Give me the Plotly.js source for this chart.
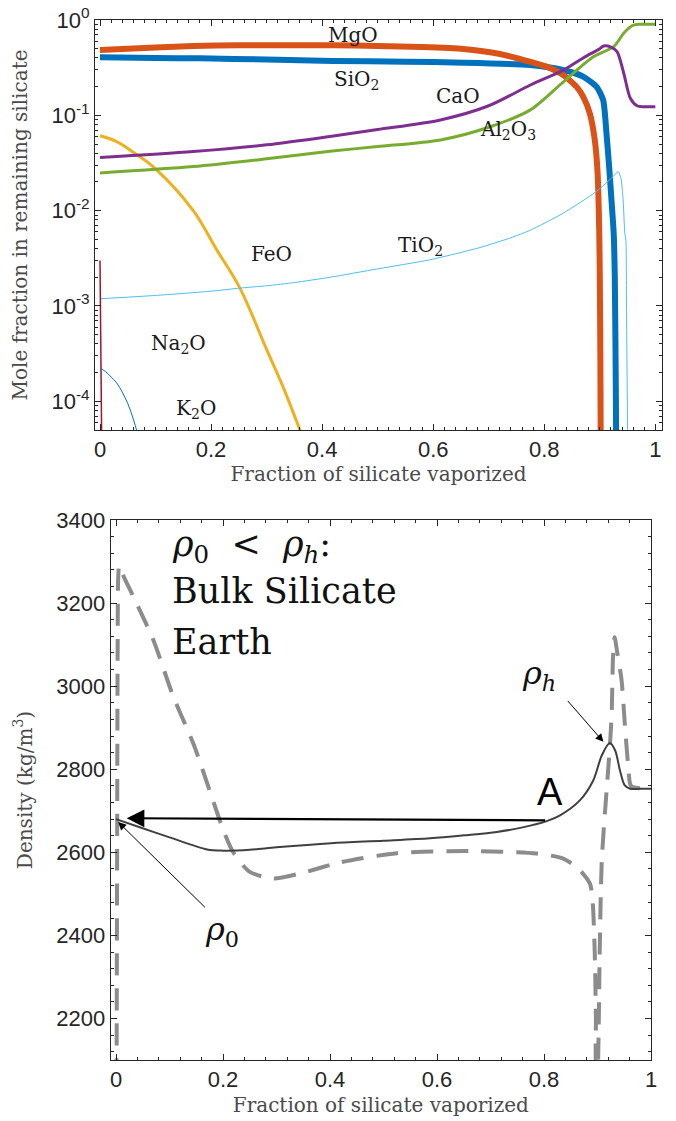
<!DOCTYPE html>
<html>
<head>
<meta charset="utf-8">
<script src="https://cdn.plot.ly/plotly-3.0.1.min.js"></script>
<style>html,body{margin:0;padding:0;background:#fff;}#chart{width:676px;height:1121px;}</style>
</head>
<body>
<div id="chart"></div>
<script>
// ---------- Top panel data: mole fraction in remaining silicate ----------
const x_SiO2 = [0,0.1,0.18,0.3,0.42,0.55,0.654,0.774,0.834,0.87,0.894,0.906,0.912,0.917,0.921,0.925,0.927,0.929,0.930];
const y_SiO2 = [0.406,0.40,0.396,0.385,0.372,0.365,0.357,0.337,0.299,0.255,0.2,0.145,0.065,0.028,0.013,0.0058,0.002,0.0001,0.00001];

const x_MgO = [0,0.1,0.168,0.25,0.35,0.42,0.5,0.58,0.654,0.72,0.774,0.804,0.834,0.858,0.87,0.882,0.891,0.896,0.899,0.9,0.901,0.902];
const y_MgO = [0.485,0.515,0.535,0.543,0.545,0.542,0.535,0.52,0.496,0.44,0.366,0.324,0.265,0.2,0.157,0.105,0.055,0.025,0.0059,0.002,0.0003,0.00001];

const x_FeO = [0,0.03,0.06,0.1,0.168,0.21,0.252,0.3,0.33,0.36,0.37];
const y_FeO = [0.061,0.053,0.041,0.0275,0.01,0.0039,0.00154,0.00035,0.00014,0.00005,0.000035];

const x_CaO = [0,0.168,0.3,0.414,0.5,0.613,0.7,0.775,0.835,0.87,0.9,0.907,0.92,0.931,0.943,0.955,0.967,0.98,1.0];
const y_CaO = [0.036,0.0417,0.049,0.06,0.071,0.0895,0.126,0.208,0.299,0.4,0.5,0.534,0.52,0.465,0.278,0.151,0.126,0.123,0.123];

const x_Al2O3 = [0,0.168,0.3,0.414,0.5,0.613,0.7,0.775,0.835,0.889,0.925,0.943,0.958,0.97,1.0];
const y_Al2O3 = [0.0249,0.029,0.035,0.042,0.047,0.0552,0.075,0.114,0.226,0.413,0.525,0.725,0.87,0.9,0.9];

const x_TiO2 = [0,0.1,0.2,0.252,0.3,0.35,0.414,0.5,0.594,0.684,0.74,0.774,0.834,0.894,0.924,0.933,0.938,0.942,0.945,0.947,0.948,0.95,0.951];
const y_TiO2 = [0.00119,0.00129,0.00143,0.00154,0.00163,0.00176,0.002,0.00245,0.00305,0.0041,0.0052,0.0062,0.0094,0.0159,0.0228,0.0257,0.022,0.013,0.0058,0.0049,0.001,0.000055,0.00001];

const x_Na2O = [0,0.0008,0.0016,0.0024,0.003,0.0035];
const y_Na2O = [0.003,0.001,0.0003,0.0001,0.00005,0.00002];

const x_K2O = [0,0.01,0.02,0.03,0.04,0.05,0.06,0.068];
const y_K2O = [0.000224,0.000205,0.00018,0.000156,0.000125,0.000095,0.000065,0.000045];

const topTickVals = [1e-4,1e-3,1e-2,1e-1,1];
const topTickText = ['10<sup>-4</sup>','10<sup>-3</sup>','10<sup>-2</sup>','10<sup>-1</sup>','10<sup>0</sup>'];

// ---------- Bottom panel data: density ----------
const x_rho = [0,0.047,0.1,0.17,0.2,0.25,0.3,0.402,0.5,0.587,0.65,0.712,0.76,0.805,0.83,0.867,0.892,0.908,0.923,0.933,0.942,0.951,0.961,0.98,1.0];
const y_rho = [2680,2659,2636,2607,2604,2606,2612,2622,2628,2634,2641,2649,2660,2675,2689,2725,2773,2833,2863,2845,2797,2761,2753,2753,2753];

const x_rhoDash = [0.001,0.002,0.003,0.004,0.006,0.015,0.033,0.07,0.107,0.145,0.182,0.2,0.219,0.25,0.294,0.344,0.42,0.525,0.66,0.786,0.836,0.864,0.886,0.891,0.895,0.897,0.898,0.900,0.9015,0.904,0.908,0.917,0.923,0.9265,0.929,0.932,0.937,0.945,0.951,0.9576,0.9626,0.979,1.0];
const y_rhoDash = [2050,2600,3100,3260,3290,3262,3214,3110,2975,2860,2722,2655,2600,2553,2537,2549,2576,2598,2603,2597,2585,2561,2524,2480,2350,2200,2080,2080,2123,2350,2580,2749,2853,2934,3070,3118,3080,3014,2910,2805,2760,2754,2754];

// ---------- styling ----------
const AX = '#262626';
const TITLE_COL = '#4a4a4a';
const SERIF = 'DejaVu Serif';
const SANS = 'Liberation Sans';

function line(x, y, color, width, xa, ya, dash, smooth) {
  const ln = {color: color, width: width, dash: dash || 'solid'};
  if (smooth) { ln.shape = 'spline'; ln.smoothing = smooth; }
  return {x: x, y: y, type: 'scatter', mode: 'lines', xaxis: xa, yaxis: ya, line: ln, hoverinfo: 'skip'};
}

const traces = [
  line(x_SiO2, y_SiO2, '#0072BD', 6, 'x', 'y', null, 0.6),
  line(x_MgO, y_MgO, '#D95319', 6, 'x', 'y', null, 0.6),
  line(x_FeO, y_FeO, '#EDB120', 3, 'x', 'y', null, 1),
  line(x_Al2O3, y_Al2O3, '#77AC30', 3, 'x', 'y', null, 0.8),
  line(x_CaO, y_CaO, '#7E2F8E', 3, 'x', 'y', null, 0.8),
  line(x_TiO2, y_TiO2, '#4DBEEE', 1, 'x', 'y', null, 0.6),
  line(x_Na2O, y_Na2O, '#A2142F', 1.5, 'x', 'y'),
  line(x_K2O, y_K2O, '#0072BD', 1, 'x', 'y', null, 1),
  line(x_rhoDash, y_rhoDash, '#8C8C8C', 4, 'x2', 'y2', '22px,13px', 0.7),
  line(x_rho, y_rho, '#404040', 2, 'x2', 'y2', null, 0.9)
];

// minor log ticks 2..9 per decade
const minorLog = [];
for (let d = -5; d <= -1; d++) for (let k = 2; k <= 9; k++) minorLog.push(k * Math.pow(10, d));

function axisCommon() {
  return {
    showline: true, linecolor: AX, linewidth: 1, mirror: 'allticks',
    ticks: 'inside', ticklen: 6, tickwidth: 1, tickcolor: AX,
    showgrid: false, zeroline: false,
    tickfont: {family: SANS, size: 22, color: AX}
  };
}
function tfont() { return {family: SERIF, size: 20, color: TITLE_COL}; }

const L = 95, R = 14, T = 20, B = 61, W = 676, H = 1121;
const pw = W - L - R, ph = H - T - B;

const layout = {
  width: W, height: H,
  margin: {l: L, r: R, t: T, b: B},
  paper_bgcolor: '#fff', plot_bgcolor: '#fff',
  showlegend: false,
  xaxis: Object.assign(axisCommon(), {
    domain: [0, 1], anchor: 'y', range: [-0.009, 1.012],
    tick0: 0, dtick: 0.2,
    minor: {dtick: 0.02, ticks: 'inside', ticklen: 3, tickcolor: AX},
    title: {text: 'Fraction of silicate vaporized', font: tfont(), standoff: 4}
  }),
  yaxis: Object.assign(axisCommon(), {
    domain: [1 - (430 - T) / ph, 1], anchor: 'x', type: 'log',
    range: [Math.log10(5e-5), 0],
    tickmode: 'array', tickvals: topTickVals, ticktext: topTickText,
    minor: {tickmode: 'array', tickvals: minorLog, ticks: 'inside', ticklen: 3, tickcolor: AX},
    title: {text: 'Mole fraction in remaining silicate', font: tfont(), standoff: 18}
  }),
  xaxis2: Object.assign(axisCommon(), {
    domain: [(110.7 - L) / pw, (651 - L) / pw], anchor: 'y2', range: [-0.01, 1],
    tick0: 0, dtick: 0.2,
    minor: {dtick: 0.04, ticks: 'inside', ticklen: 3, tickcolor: AX},
    title: {text: 'Fraction of silicate vaporized', font: tfont(), standoff: 6}
  }),
  yaxis2: Object.assign(axisCommon(), {
    domain: [0, (H - B - 520) / ph], anchor: 'x2', range: [2100, 3400],
    tick0: 2200, dtick: 200,
    minor: {dtick: 40, ticks: 'inside', ticklen: 3, tickcolor: AX},
    title: {text: 'Density (kg/m<sup>3</sup>)', font: tfont(), standoff: 18}
  }),
  annotations: []
};

// ---------- top panel labels ----------
const lab = (text, x, y) => ({text: text, x: x, y: y, xref: 'x', yref: 'y', showarrow: false,
  font: {family: SERIF, size: 20, color: '#1a1a1a'}, xanchor: 'center', yanchor: 'middle'});
layout.annotations.push(
  lab('MgO', 0.456, -0.157),
  lab('SiO<sub>2</sub>', 0.462, -0.63),
  lab('CaO', 0.644, -0.797),
  lab('Al<sub>2</sub>O<sub>3</sub>', 0.735, -1.15),
  lab('TiO<sub>2</sub>', 0.577, -2.37),
  lab('FeO', 0.308, -2.453),
  lab('Na<sub>2</sub>O', 0.142, -3.40),
  lab('K<sub>2</sub>O', 0.172, -4.08)
);

// ---------- bottom panel annotations ----------
function bigFont() { return {family: SERIF, size: 35, color: '#111'}; }
const txt = (text, x, y, xanchor, font) => ({text: text, x: x, y: y, xref: 'x2', yref: 'y2', showarrow: false,
  xanchor: xanchor, yanchor: 'middle', font: font});
layout.annotations.push(
  txt('<i>ρ</i><sub>0</sub>&nbsp; &lt; &nbsp;<i>ρ<sub>h</sub></i>:', 0.1, 3336, 'left', bigFont()),
  txt('Bulk Silicate', 0.1, 3230, 'left', bigFont()),
  txt('Earth', 0.1, 3106, 'left', bigFont()),
  txt('<i>ρ<sub>h</sub></i>', 0.79, 3026, 'center', {family: SERIF, size: 32, color: '#111'}),
  txt('<i>ρ</i><sub>0</sub>', 0.198, 2410, 'center', {family: SERIF, size: 32, color: '#111'}),
  txt('A', 0.811, 2746, 'center', {family: SANS, size: 38, color: '#000'}),
  // arrows
  {text: '', x: 0.02, y: 2682, ax: 0.805, ay: 2677, xref: 'x2', yref: 'y2', axref: 'x2', ayref: 'y2',
   showarrow: true, arrowhead: 2, arrowsize: 1.6, arrowwidth: 2.2, arrowcolor: '#000', standoff: 0},
  {text: '', x: 0.911, y: 2866, ax: 0.842, ay: 2968, xref: 'x2', yref: 'y2', axref: 'x2', ayref: 'y2',
   showarrow: true, arrowhead: 2, arrowsize: 1.6, arrowwidth: 1, arrowcolor: '#000', standoff: 0},
  {text: '', x: 0.004, y: 2673, ax: 0.169, ay: 2464, xref: 'x2', yref: 'y2', axref: 'x2', ayref: 'y2',
   showarrow: true, arrowhead: 2, arrowsize: 1.6, arrowwidth: 1, arrowcolor: '#000', standoff: 0}
);

Plotly.newPlot('chart', traces, layout, {staticPlot: true, displayModeBar: false});
</script>
</body>
</html>
